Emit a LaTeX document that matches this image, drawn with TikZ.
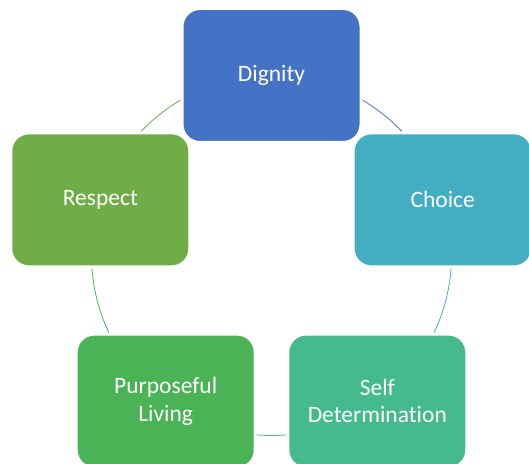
\documentclass[tikz,border=0pt]{standalone}
\usepackage{fontspec}
\setmainfont{Carlito}[Ligatures=NoCommon]
\usetikzlibrary{backgrounds}
\definecolor{dignityblue}{HTML}{4472C4}
\definecolor{choiceteal}{HTML}{43AEC2}
\definecolor{selfgreen}{HTML}{45BB8D}
\definecolor{livinggreen}{HTML}{4AB355}
\definecolor{respectgreen}{HTML}{70AD47}
\begin{document}
\begin{tikzpicture}[x=1pt, y=1pt,
    value/.style={rectangle, rounded corners=18pt, draw=white, line width=3pt,
      minimum width=179pt, minimum height=134pt, align=center, text=white,
      font=\fontsize{23.5}{27.5}\selectfont},
    link/.style={line width=0.8pt}]
    \useasboundingbox (0,0) rectangle (529,463);
    \coordinate (O) at (271.5,207.5);
    % the five values, clockwise from the top
    \node[value, fill=dignityblue] (dignity) at ([shift={(90:180pt)}]O) {Dignity};
    \node[value, fill=choiceteal] (choice) at ([shift={(18:180pt)}]O) {Choice};
    \node[value, fill=selfgreen] (self) at ([shift={(-54:180pt)}]O) {Self\\Determination};
    \node[value, fill=livinggreen] (living) at ([shift={(-126:180pt)}]O) {Purposeful\\Living};
    \node[value, fill=respectgreen] (respect) at ([shift={(162:180pt)}]O) {Respect};
    % the cycle behind them
    \begin{scope}[on background layer]
        \draw[link, dignityblue] (dignity.center) arc[start angle=90, end angle=18, radius=180pt];
        \draw[link, choiceteal] (choice.center) arc[start angle=18, end angle=-54, radius=180pt];
        \draw[link, selfgreen] (self.center) arc[start angle=-54, end angle=-126, radius=180pt];
        \draw[link, livinggreen] (living.center) arc[start angle=-126, end angle=-198, radius=180pt];
        \draw[link, respectgreen] (respect.center) arc[start angle=162, end angle=90, radius=180pt];
    \end{scope}
\end{tikzpicture}
\end{document}
